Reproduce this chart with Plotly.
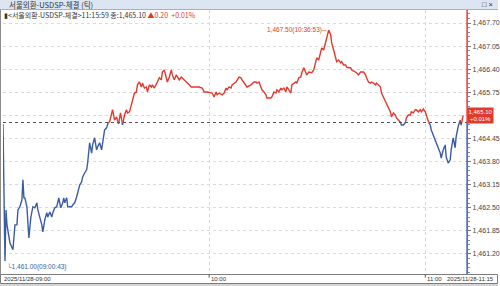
import plotly.graph_objects as go

# ---------------- data (tick chart, x = tick sequence index) ----------------
tick_no = [0, 1, 2, 3, 4, 7, 9, 10, 12, 14, 15, 17, 19, 20, 21, 22, 24, 25, 26, 28, 29, 30, 32, 34, 35, 37, 39, 40,
           42, 44, 45, 47, 49, 50, 52, 54, 55, 56, 58, 60, 61, 62, 64, 65, 67, 69, 70, 72, 74, 75, 77, 79, 80, 82, 84,
           85, 87, 89, 90, 92, 94, 95, 97, 99, 100, 102, 104, 105, 107,
           110, 112, 114, 116, 118, 120, 122, 124, 125, 127, 129, 132, 134, 135, 137, 139, 140, 142, 144, 145, 147,
           149, 150, 152, 155, 157, 159, 160, 162, 164, 165, 167, 169, 170, 172, 174, 175, 177, 179, 182, 185, 187,
           189, 197, 200, 202, 205, 209, 210, 212, 214, 215, 217, 220, 222,
           224, 225, 227, 229, 230, 234, 237, 239, 240, 244, 245, 249, 252, 254, 255, 257, 259, 260, 262, 264, 265,
           269, 270, 272, 274, 275, 277, 279, 280, 282, 284, 285, 287, 289, 290, 292, 294, 295, 297, 299, 300, 302,
           304, 305, 307, 309, 310, 312, 314, 315, 317, 319, 320, 322, 324, 325, 327, 329, 330, 332, 334, 335, 337,
           339, 340, 342, 344, 345, 347, 349, 350, 354, 355, 357, 359, 362, 364, 365, 367, 369, 370, 372, 374, 375,
           377, 379, 380, 382, 384, 385, 387, 389, 390, 392, 394, 395, 397, 399, 400, 402, 404, 405, 407, 409, 410,
           412, 414, 415, 417, 419, 420, 422, 424, 425, 427, 429, 430, 432, 434, 435, 437, 439, 440, 442, 444, 445,
           447, 449, 450, 452, 454, 455, 457, 459, 460, 462]
price = [1464.86, 1462.72, 1461.00, 1462.44, 1462.02, 1461.51, 1461.40, 1461.32, 1462.02, 1462.02, 1462.44, 1462.53,
         1462.72, 1463.29, 1462.78, 1462.78, 1462.53, 1461.96, 1461.65, 1462.24, 1462.44, 1462.53, 1462.50, 1462.64,
         1462.44, 1462.24, 1462.02, 1461.82, 1462.16, 1462.36, 1462.24, 1462.38, 1462.24, 1462.36, 1462.50, 1462.53,
         1462.67, 1462.78, 1462.50, 1462.64, 1462.78, 1462.64, 1462.78, 1462.53, 1462.53, 1462.53, 1462.58, 1462.64,
         1462.81, 1462.92, 1463.14, 1463.23, 1463.37, 1463.48, 1463.57, 1463.76, 1464.33, 1464.04, 1464.27, 1464.47,
         1464.13, 1464.21, 1464.33, 1464.13, 1464.33, 1464.69, 1464.75, 1464.89, 1464.92,
         1465.26, 1464.97, 1465.06, 1464.86, 1465.17, 1464.83, 1465.11, 1465.26, 1465.17, 1465.20, 1465.45, 1465.73,
         1465.76, 1465.96, 1466.04, 1465.90, 1466.01, 1465.87, 1465.90, 1465.76, 1465.96, 1465.90, 1465.96, 1465.87,
         1466.04, 1466.16, 1466.10, 1466.32, 1466.38, 1466.18, 1466.04, 1466.18, 1466.38, 1466.24, 1466.10, 1466.24,
         1466.18, 1466.10, 1466.18, 1466.10, 1466.04, 1465.96, 1465.90, 1465.90, 1465.87, 1465.76, 1465.76, 1465.73,
         1465.73, 1465.62, 1465.76, 1465.68, 1465.73, 1465.68, 1465.73,
         1465.87, 1465.82, 1465.90, 1465.87, 1465.96, 1466.04, 1466.18, 1466.16, 1466.10, 1465.96, 1465.90, 1465.96,
         1466.04, 1466.04, 1466.01, 1466.04, 1465.87, 1465.82, 1465.76, 1465.68, 1465.59, 1465.59, 1465.62, 1465.76,
         1465.73, 1465.82, 1465.76, 1465.87, 1465.82, 1465.87, 1465.76, 1465.90, 1465.82, 1465.73, 1465.96, 1466.01,
         1466.04, 1466.01, 1466.16, 1466.18, 1466.30, 1466.44, 1466.30, 1466.24, 1466.32, 1466.30, 1466.30, 1466.38,
         1466.58, 1466.72, 1466.66, 1466.86, 1467.00, 1466.94, 1467.14, 1467.28, 1467.50, 1467.37, 1467.14, 1466.94,
         1466.72, 1466.61, 1466.66, 1466.58, 1466.61, 1466.52, 1466.52, 1466.46, 1466.44, 1466.44, 1466.38, 1466.32,
         1466.30, 1466.24, 1466.32, 1466.32, 1466.24, 1466.16, 1466.04, 1466.01, 1466.04, 1466.01, 1465.96, 1466.01,
         1465.96, 1465.90, 1465.73, 1465.62, 1465.48, 1465.45, 1465.34, 1465.20, 1465.06, 1465.17, 1465.11, 1465.03,
         1464.97, 1464.92, 1464.83, 1464.83, 1464.89, 1465.03, 1465.11, 1465.11, 1465.20, 1465.17, 1465.26, 1465.26,
         1465.20, 1465.26, 1465.20, 1465.28, 1465.20, 1465.11, 1464.92, 1464.83, 1464.69, 1464.55, 1464.41, 1464.33,
         1464.19, 1464.04, 1463.90, 1464.13, 1464.27, 1463.93, 1463.76, 1463.85, 1464.13, 1464.47, 1464.19, 1464.50,
         1464.78, 1464.97, 1464.83, 1465.10]

prev_close = 1464.90
y_ticks = [1461.20, 1461.85, 1462.50, 1463.15, 1463.80, 1464.45, 1465.10, 1465.75, 1466.40, 1467.05, 1467.70]
x_grid_ticks = [207, 424]          # 10:00, 11:00
x_tick_labels = ["10:00", "11:00"]
x_start_label = "2025/11/28-09:00"
x_end_label = "2025/11/28-11:15"
hi_label = "1,467.50(10:36:53)─"
lo_label = "└1,461.00(09:00:43)"
hi_idx, hi_val = 327, 1467.50
lo_idx, lo_val = 2, 1461.00
last_label = "1,465.10<br>+0.01%"
last_val = 1465.10
title_text = "서울외환-USDSP-체결 (틱)"
header_text = "▮<서울외환-USDSP-체결>11:15:59 종:1,465.10"
header_change = "▲0.20  +0.01%"

RED = "#e2392d"
BLUE = "#3a5ca6"

# split series into above / below previous close
rx, ry, bx, by = [], [], [], []
for i, (x, y) in enumerate(zip(tick_no, price)):
    if i > 0:
        x0, y0 = tick_no[i - 1], price[i - 1]
        if (y0 >= prev_close) != (y >= prev_close):
            xc = x0 + (prev_close - y0) / (y - y0) * (x - x0)
            rx.append(xc); ry.append(prev_close)
            bx.append(xc); by.append(prev_close)
            if y0 >= prev_close:
                rx.append(None); ry.append(None)
            else:
                bx.append(None); by.append(None)
    if y >= prev_close:
        rx.append(x); ry.append(y)
    else:
        bx.append(x); by.append(y)

W, H = 500, 286
px_left, px_right = 3, 469
px_top, px_bot = 10, 274

fig = go.Figure()
fig.add_trace(go.Scatter(x=bx, y=by, mode="lines", line=dict(color=BLUE, width=1.4),
                         connectgaps=False, hoverinfo="skip"))
fig.add_trace(go.Scatter(x=rx, y=ry, mode="lines", line=dict(color=RED, width=1.4),
                         connectgaps=False, hoverinfo="skip"))

FONT = "Liberation Sans, Arial, sans-serif"
KFONT = "Noto Sans CJK KR, sans-serif"

tick_text = ["" if abs(v - last_val) < 1e-9 else f"{v:,.2f}" for v in y_ticks]

fig.update_layout(
    width=W, height=H, margin=dict(l=0, r=0, t=0, b=0),
    paper_bgcolor="white", plot_bgcolor="white", showlegend=False,
    xaxis=dict(domain=[px_left / W, px_right / W], range=[0, 466], tickvals=x_grid_ticks,
               showticklabels=False, showgrid=True, gridcolor="#d6d6d6", griddash="dot",
               gridwidth=1, zeroline=False, showline=False, ticks=""),
    yaxis=dict(domain=[1 - px_bot / H, 1 - px_top / H], range=[1460.637, 1468.066], side="right",
               tickvals=y_ticks, ticktext=tick_text,
               tickfont=dict(family=FONT, size=7, color="#444"),
               ticks="outside", ticklen=3, tickcolor="#777",
               minor=dict(tick0=1461.20, dtick=0.13, ticks="outside", ticklen=1.5, tickcolor="#7a8fb8"),
               showgrid=True, gridcolor="#dadada", griddash="dot", gridwidth=1,
               zeroline=False, showline=False),
)

shapes = []
# title bar
shapes.append(dict(type="rect", xref="paper", yref="paper", x0=0, x1=1, y0=1 - 9.5 / H, y1=1,
                   fillcolor="#dbe6f2", line=dict(width=0), layer="above"))
shapes.append(dict(type="line", xref="paper", yref="paper", x0=0, x1=1, y0=1 - 9.5 / H, y1=1 - 9.5 / H,
                   line=dict(color="#9fb3c8", width=1), layer="above"))
# previous close dotted line
shapes.append(dict(type="line", xref="x domain", yref="y", x0=0, x1=1, y0=prev_close, y1=prev_close,
                   line=dict(color="#555", width=1, dash="dot")))
# right axis line coloured by side of previous close
shapes.append(dict(type="line", xref="x domain", yref="y", x0=1, x1=1, y0=prev_close, y1=1468.066,
                   line=dict(color=RED, width=1.5)))
shapes.append(dict(type="line", xref="x domain", yref="y", x0=1, x1=1, y0=1460.637, y1=prev_close,
                   line=dict(color=BLUE, width=1.5)))
# left border
shapes.append(dict(type="line", xref="paper", yref="paper", x0=0.5 / W, x1=0.5 / W, y0=1 - 283 / H, y1=1 - 9.5 / H,
                   line=dict(color="#8a8a8a", width=1)))
# x-axis band
shapes.append(dict(type="rect", xref="paper", yref="paper", x0=0.5 / W, x1=1 - 0.5 / W, y0=1 - 283.5 / H,
                   y1=1 - 274.5 / H, fillcolor="white", line=dict(color="#7d7d7d", width=1)))
shapes.append(dict(type="rect", xref="paper", yref="paper", x0=0, x1=1, y0=0, y1=1 - 284 / H,
                   fillcolor="#d4d4d4", line=dict(width=0)))
for xv in x_grid_ticks:
    shapes.append(dict(type="line", xref="x", yref="paper", x0=xv, x1=xv, y0=1 - 277.5 / H, y1=1 - 274.5 / H,
                       line=dict(color="#555", width=1)))
fig.update_layout(shapes=shapes)

ann = []
ann.append(dict(xref="paper", yref="paper", x=7 / W, y=1 - 4.8 / H, xanchor="left", yanchor="middle",
                text=title_text, showarrow=False, font=dict(family=KFONT, size=7.5, color="#333")))
ann.append(dict(xref="paper", yref="paper", x=1 - 3 / W, y=1 - 4.8 / H, xanchor="right", yanchor="middle",
                text="□ ×", showarrow=False, font=dict(family=FONT, size=7.5, color="#333")))
ann.append(dict(xref="paper", yref="paper", x=2 / W, y=1 - 15 / H, xanchor="left", yanchor="middle",
                text=f'<span style="color:#333">{header_text}</span> <span style="color:{RED}">{header_change}</span>',
                showarrow=False, font=dict(family=KFONT, size=7)))
ann.append(dict(xref="x", yref="y", x=hi_idx, y=hi_val, xanchor="right", yanchor="middle",
                text=hi_label, showarrow=False, font=dict(family=FONT, size=6.5, color=RED)))
ann.append(dict(xref="x", yref="y", x=lo_idx, y=lo_val, xanchor="left", yanchor="top", yshift=0,
                text=lo_label, showarrow=False, font=dict(family=FONT, size=6.5, color=BLUE)))
ann.append(dict(xref="paper", yref="y", x=px_right / W, y=last_val, xanchor="left", yanchor="middle",
                text=last_label, showarrow=False, bgcolor=RED, borderpad=0.5, align="center",
                font=dict(family=FONT, size=6, color="white")))
ann.append(dict(xref="paper", yref="paper", x=2 / W, y=1 - 279 / H, xanchor="left", yanchor="middle",
                text=x_start_label, showarrow=False, font=dict(family=FONT, size=6, color="#333")))
ann.append(dict(xref="paper", yref="paper", x=1 - 2 / W, y=1 - 279 / H, xanchor="right", yanchor="middle",
                text=x_end_label, showarrow=False, font=dict(family=FONT, size=6, color="#333")))
for xv, lab in zip(x_grid_ticks, x_tick_labels):
    ann.append(dict(xref="x", yref="paper", x=xv, y=1 - 279 / H, xanchor="left", yanchor="middle",
                    text=lab, showarrow=False, font=dict(family=FONT, size=6, color="#333")))
fig.update_layout(annotations=ann)

fig.write_html("out.html")
